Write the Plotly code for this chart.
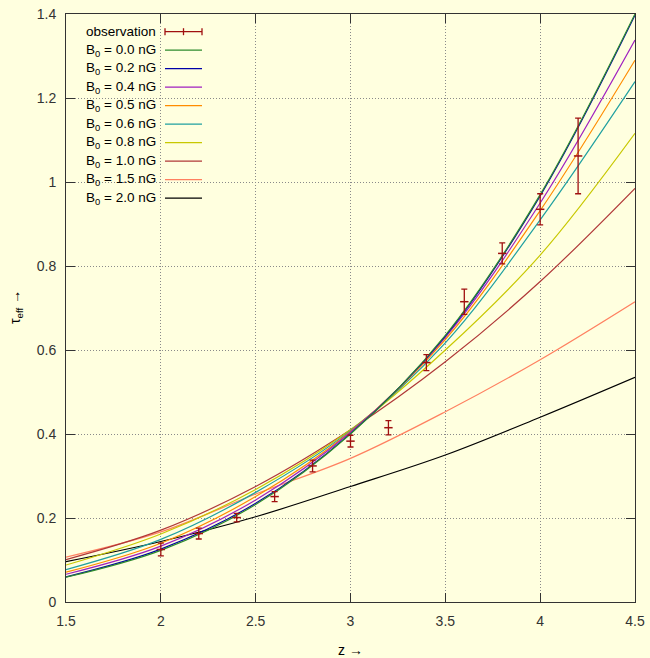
import plotly.graph_objects as go

# ---------------- data ----------------
z_model = [1.5, 2.0, 2.5, 3.0, 3.5, 4.0, 4.5]
tau_B00 = [0.059, 0.123, 0.232, 0.400, 0.635, 0.970, 1.400]
tau_B02 = [0.060, 0.126, 0.235, 0.401, 0.633, 0.967, 1.397]
tau_B04 = [0.066, 0.133, 0.243, 0.404, 0.630, 0.950, 1.338]
tau_B05 = [0.071, 0.140, 0.251, 0.406, 0.625, 0.932, 1.290]
tau_B06 = [0.077, 0.149, 0.261, 0.408, 0.617, 0.910, 1.239]
tau_B08 = [0.088, 0.162, 0.268, 0.410, 0.600, 0.826, 1.116]
tau_B10 = [0.101, 0.171, 0.275, 0.410, 0.572, 0.763, 0.985]
tau_B15 = [0.107, 0.167, 0.257, 0.342, 0.453, 0.577, 0.715]
tau_B20 = [0.096, 0.144, 0.203, 0.275, 0.350, 0.440, 0.535]

z_obs = [2.0, 2.2, 2.4, 2.6, 2.8, 3.0, 3.2, 3.4, 3.6, 3.8, 4.0, 4.2]
tau_obs = [0.125, 0.163, 0.201, 0.251, 0.324, 0.383, 0.415, 0.570, 0.715, 0.830, 0.935, 1.062]
tau_err = [0.015, 0.013, 0.010, 0.012, 0.014, 0.014, 0.017, 0.019, 0.030, 0.025, 0.037, 0.090]

series_labels = ["B<sub>0</sub> = 0.0 nG", "B<sub>0</sub> = 0.2 nG", "B<sub>0</sub> = 0.4 nG",
                 "B<sub>0</sub> = 0.5 nG", "B<sub>0</sub> = 0.6 nG", "B<sub>0</sub> = 0.8 nG",
                 "B<sub>0</sub> = 1.0 nG", "B<sub>0</sub> = 1.5 nG", "B<sub>0</sub> = 2.0 nG"]
series_values = [tau_B00, tau_B02, tau_B04, tau_B05, tau_B06, tau_B08, tau_B10, tau_B15, tau_B20]
series_colors = ["#2e8b2e", "#0000a8", "#a020c0", "#ff8c00", "#20a0a0",
                 "#c8c800", "#b03838", "#ff8060", "#000000"]

x_ticks = [1.5, 2, 2.5, 3, 3.5, 4, 4.5]
x_ticktext = ["1.5", "2", "2.5", "3", "3.5", "4", "4.5"]
y_ticks = [0, 0.2, 0.4, 0.6, 0.8, 1.0, 1.2, 1.4]
y_ticktext = ["0", "0.2", "0.4", "0.6", "0.8", "1", "1.2", "1.4"]

BG = "#ffffdf"
OBS_COLOR = "#a01010"
FONT = "Liberation Sans, Arial, sans-serif"

fig = go.Figure()

# draw in reverse so B0=0.0 ends on top like the reference
for lab, vals, col in list(zip(series_labels, series_values, series_colors))[::-1]:
    fig.add_trace(go.Scatter(x=z_model, y=vals, mode="lines", name=lab,
                             line=dict(color=col, width=1.2, shape="spline", smoothing=1.0),
                             showlegend=False))

fig.add_trace(go.Scatter(x=z_obs, y=tau_obs, mode="markers", name="observation",
                         marker=dict(symbol="line-ew", size=6, color=OBS_COLOR,
                                     line=dict(color=OBS_COLOR, width=1.5)),
                         error_y=dict(type="data", array=tau_err, visible=True,
                                      color=OBS_COLOR, thickness=1.3, width=3),
                         showlegend=False))

# ---------------- manual legend (gnuplot style: text right, sample on right) -------------
# plot-area pixels
L, R, T, B = 66, 635, 14, 602
W, H = R - L, B - T
def px(xp):
    return (xp - L) / W
def py(yp):
    return (B - yp) / H

shapes = []
annotations = []
shapes.append(dict(type="rect", xref="paper", yref="paper", x0=0.0, x1=px(208),
                   y0=py(207), y1=py(22), fillcolor=BG, line=dict(width=0), layer="between"))

legend_names = ["observation"] + series_labels
legend_colors = [OBS_COLOR] + series_colors
row0, dy = 31.7, 18.5
for i, (nm, col) in enumerate(zip(legend_names, legend_colors)):
    yc = row0 + i * dy
    annotations.append(dict(xref="paper", yref="paper", x=px(158), y=py(yc), text=nm,
                            showarrow=False, xanchor="right", yanchor="middle",
                            font=dict(family=FONT, size=13.5, color="#000000")))
    shapes.append(dict(type="line", xref="paper", yref="paper", x0=px(165), x1=px(202),
                       y0=py(yc), y1=py(yc), line=dict(color=col, width=1.3)))
    if i == 0:
        for xx in (165, 183.5, 202):
            shapes.append(dict(type="line", xref="paper", yref="paper", x0=px(xx), x1=px(xx),
                               y0=py(yc - 3.5), y1=py(yc + 3.5),
                               line=dict(color=col, width=1.3)))

annotations.append(dict(xref="paper", yref="paper", x=px(350), y=py(640), text="z \u2192",
                        showarrow=False, xanchor="center", yanchor="top",
                        font=dict(family=FONT, size=14, color="#000000")))
annotations.append(dict(xref="paper", yref="paper", x=px(5), y=py(307),
                        text="\u03c4<sub>eff</sub> \u2192", textangle=-90,
                        showarrow=False, xanchor="left", yanchor="middle",
                        font=dict(family=FONT, size=14, color="#000000")))

axis_common = dict(showline=True, linecolor="#333333", linewidth=1, mirror="allticks",
                   ticks="inside", ticklen=9, tickwidth=1, tickcolor="#333333",
                   showgrid=True, gridcolor="#8a8a8a", griddash="1px,2px", gridwidth=1,
                   zeroline=False, automargin=False, ticklabeloverflow="allow",
                   tickfont=dict(family=FONT, size=14, color="#333333"))

fig.update_layout(
    width=650, height=658,
    margin=dict(l=L, r=650 - R, t=T, b=658 - B, pad=0, autoexpand=False),
    paper_bgcolor=BG, plot_bgcolor=BG,
    xaxis=dict(range=[1.5, 4.5], tickvals=x_ticks, ticktext=x_ticktext,
               ticklabelstandoff=6, **axis_common),
    yaxis=dict(range=[0, 1.4], tickvals=y_ticks, ticktext=y_ticktext,
               ticklabelstandoff=6, **axis_common),
    shapes=shapes, annotations=annotations,
    showlegend=False,
)

fig.write_html("out.html",
               config={"displayModeBar": False, "responsive": False},
               post_script="document.documentElement.style.margin='0px';"
                           "document.body.style.margin='0px';document.body.style.padding='0px';"
                           "document.documentElement.style.overflow='hidden';"
                           "document.body.style.overflow='hidden';"
                           "document.body.style.background='" + BG + "';")
